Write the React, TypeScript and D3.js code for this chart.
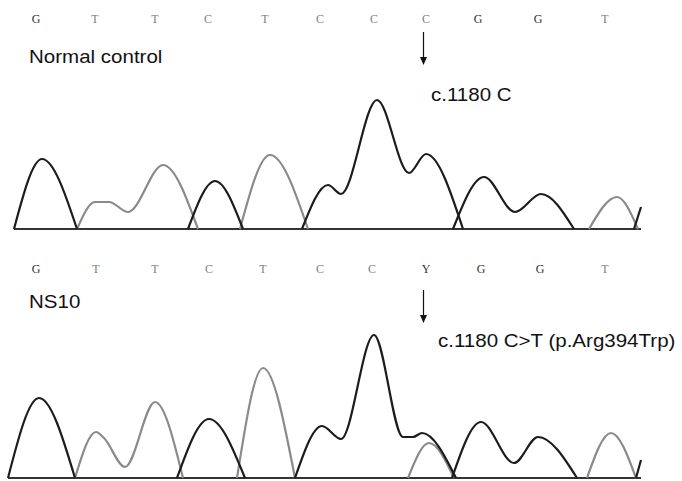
import * as d3 from "d3";

// base calls under each trace
const bases = ["G", "T", "T", "C", "T", "C", "C", "C", "G", "G", "T"];
const basesNS10 = ["G", "T", "T", "C", "T", "C", "C", "Y", "G", "G", "T"];
const basePosTop = [36, 95, 155, 208, 265, 320, 374, 426, 478, 538, 605];
const basePosBottom = [36, 96, 155, 209, 263, 320, 372, 426, 481, 540, 605];

// peak traces: [scan position, signal]; each inner array is one continuous stretch
const topDark: [number, number][][] = [
  [[14, 0], [42, 70], [77, 0]],
  [[188, 0], [215, 48], [243, 0]],
  [[302, 0], [328, 44], [341, 35], [377, 129], [409, 56], [426, 75], [463, 0]],
  [[453, 0], [484, 52], [515, 17], [541, 35], [574, 0]],
  [[634, 0], [641, 22]],
];
const topGray: [number, number][][] = [
  [[77, 0], [95, 27], [109, 27], [128, 17], [163, 64], [198, 0]],
  [[240, 0], [270, 74], [308, 0]],
  [[589, 0], [617, 32], [638, 0]],
];
const bottomDark: [number, number][][] = [
  [[8, 0], [39, 80], [75, 0]],
  [[177, 0], [209, 59], [245, 0]],
  [[295, 0], [322, 52], [341, 39], [374, 143], [403, 41], [413, 41], [422, 45], [456, 0]],
  [[452, 0], [481, 56], [514, 15], [538, 41], [577, 0]],
  [[636, 0], [641, 18]],
];
const bottomGray: [number, number][][] = [
  [[75, 0], [96, 46], [104, 40], [125, 11], [155, 76], [183, 0]],
  [[237, 0], [263, 110], [295, 0]],
  [[408, 0], [429, 35], [454, 0]],
  [[587, 0], [611, 45], [636, 0]],
];

const DARK = "#1c1c1c";
const GRAY = "#8a8a8a";

function Panel({ baseline, letterY, letters, letterX, dark, gray, name, nameY, note, noteX, noteY, arrowY }: any) {
  const x = d3.scaleLinear().domain([0, 682]).range([0, 682]);
  const y = d3.scaleLinear().domain([0, 150]).range([baseline, baseline - 150]);
  const line = d3
    .line<[number, number]>()
    .x((d) => x(d[0]))
    .y((d) => y(d[1]))
    .curve(d3.curveMonotoneX);
  const arrowX = x(423.5);
  return (
    <g>
      {letters.map((l: string, i: number) => (
        <text
          key={i}
          x={x(letterX[i])}
          y={letterY}
          textAnchor="middle"
          fontFamily="'Liberation Serif', serif"
          fontSize={12}
          fill={l === "G" || l === "Y" ? "#333" : "#808080"}
        >
          {l}
        </text>
      ))}
      <text
        transform={`translate(29,${nameY}) scale(1.14,1)`}
        fontFamily="'Liberation Sans', Arial, sans-serif"
        fontSize={18}
        fill="#111"
      >
        {name}
      </text>
      <line x1={arrowX} x2={arrowX} y1={arrowY} y2={arrowY + 26} stroke="#111" strokeWidth={1.2} />
      <path
        d={`M${arrowX - 3.5},${arrowY + 25} L${arrowX + 3.5},${arrowY + 25} L${arrowX},${arrowY + 33} Z`}
        fill="#111"
      />
      <text
        transform={`translate(${noteX},${noteY}) scale(1.14,1)`}
        fontFamily="'Liberation Sans', Arial, sans-serif"
        fontSize={18}
        fill="#111"
      >
        {note}
      </text>
      <line x1={x(dark[0][0][0])} x2={x(641)} y1={y(0)} y2={y(0)} stroke="#333" strokeWidth={2} />
      {gray.map((s: [number, number][], i: number) => (
        <path key={"g" + i} d={line(s) || ""} fill="none" stroke={GRAY} strokeWidth={2.2} />
      ))}
      {dark.map((s: [number, number][], i: number) => (
        <path key={"d" + i} d={line(s) || ""} fill="none" stroke={DARK} strokeWidth={2.2} />
      ))}
    </g>
  );
}

export default function App() {
  return (
    <svg width={682} height={481} style={{ position: "absolute", left: 0, top: 0, background: "#fff" }}>
      <Panel
        baseline={229}
        letterY={23}
        letters={bases}
        letterX={basePosTop}
        dark={topDark}
        gray={topGray}
        name="Normal control"
        nameY={63}
        note="c.1180 C"
        noteX={431}
        noteY={101}
        arrowY={32}
      />
      <Panel
        baseline={478}
        letterY={273}
        letters={basesNS10}
        letterX={basePosBottom}
        dark={bottomDark}
        gray={bottomGray}
        name="NS10"
        nameY={308}
        note="c.1180 C>T (p.Arg394Trp)"
        noteX={438}
        noteY={347}
        arrowY={290}
      />
    </svg>
  );
}
